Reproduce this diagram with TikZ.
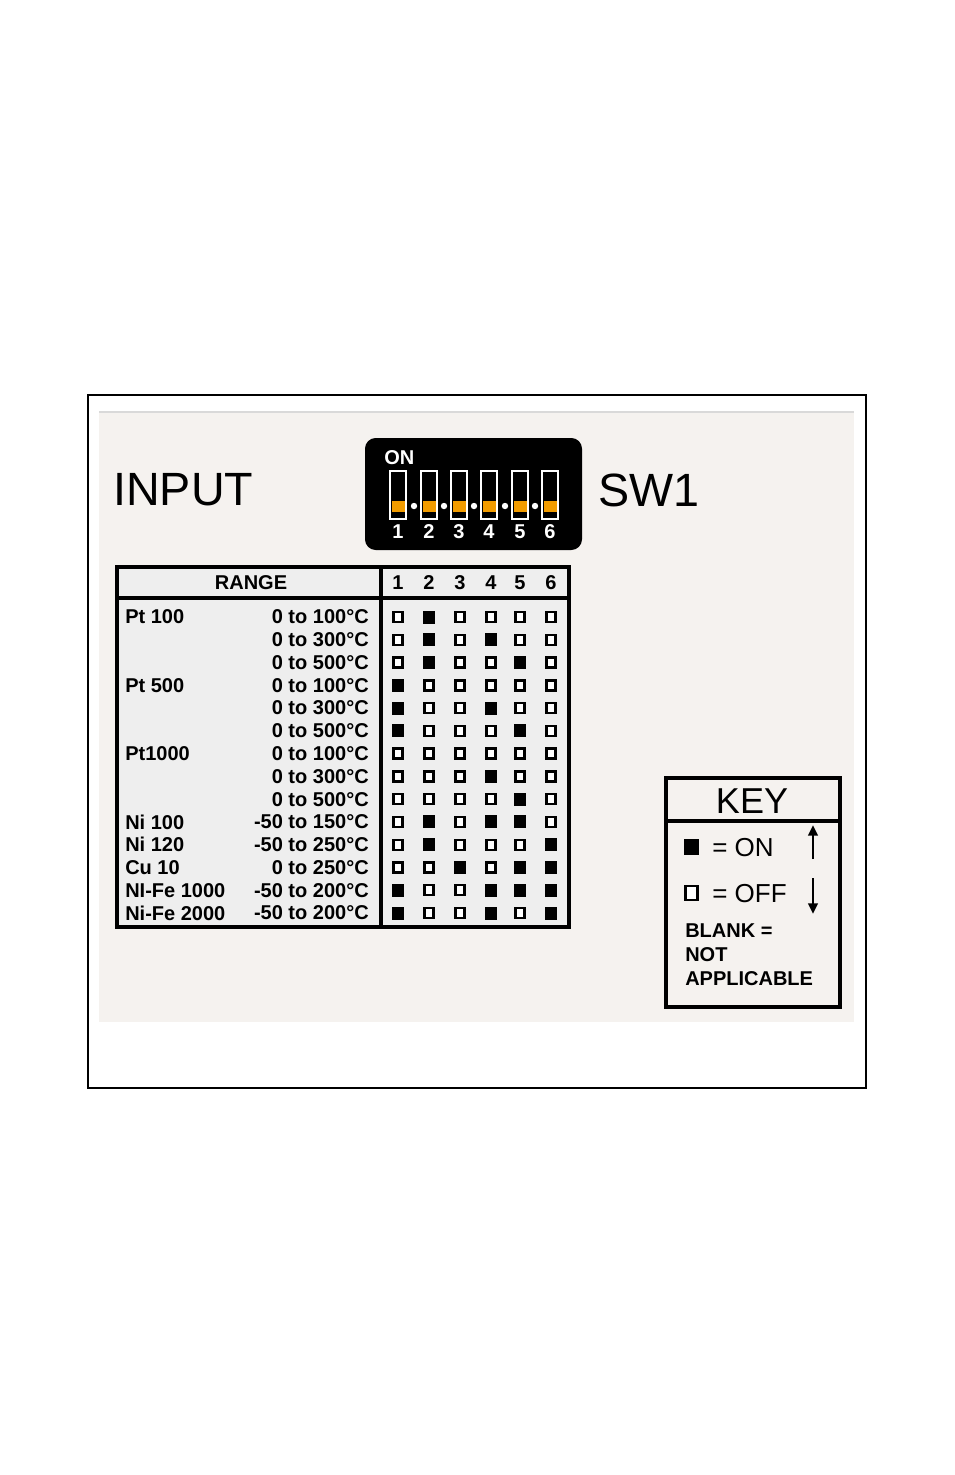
\documentclass[tikz,border=0pt]{standalone}
\usepackage{fontspec}
\setmainfont{Liberation Sans}
\usetikzlibrary{arrows.meta}
\definecolor{panel}{HTML}{F5F2EF}
\definecolor{tbl}{HTML}{EEEEEE}
\definecolor{orng}{HTML}{F29C00}
\begin{document}
\begin{tikzpicture}[x=0.75pt,y=-0.75pt,
  lbl/.style={font=\bfseries\fontsize{15}{15}\selectfont, inner sep=0pt}]
\useasboundingbox (0,0) rectangle (954,1475);
\fill[white] (0,0) rectangle (954,1475);
\draw[line width=1.5pt] (88,395) rectangle (866,1088);
\fill[panel] (99,411) rectangle (854,1022);
\draw[line width=1.2pt, black!15] (99,412) -- (854,412);
\node[font=\fontsize{35}{35}\selectfont, anchor=west, inner sep=0pt] (input) at (113,490) {INPUT};
\node[font=\fontsize{35}{35}\selectfont, anchor=west, inner sep=0pt] (sw1) at (598,490) {SW1};
% DIP
\fill[black, rounded corners=8pt] (365,438) rectangle (582,550);
\node[lbl, text=white, anchor=west] (on) at (384,458) {ON};
\foreach \x [count=\i] in {398,429,459,489,520,550}{
  \draw[white, line width=0.9pt] (\x-8,471) rectangle (\x+8,519);
  \fill[orng] (\x-6.5,501) rectangle (\x+6.5,512);
  \node[lbl, text=white] (n\i) at (\x,532) {\i};
}
\foreach \x in {414,444,474,505,535}{ \fill[white] (\x,506) circle (3.2); }
% table
\fill[tbl] (117,567) rectangle (569,927);
\draw[line width=2.4pt] (117,567) rectangle (569,927);
\draw[line width=2.4pt] (117,598) -- (569,598);
\draw[line width=2.4pt] (381,567) -- (381,927);
\node[lbl] (range) at (251,583) {RANGE};
\foreach \x [count=\i] in {398,429,460,491,520,551}{
  \node[lbl] (h\i) at (\x,583) {\i};
}
\foreach \nm/\rg/\pat [count=\r] in {
  Pt 100/0 to 100°C/{0,1,0,0,0,0},
  /0 to 300°C/{0,1,0,1,0,0},
  /0 to 500°C/{0,1,0,0,1,0},
  Pt 500/0 to 100°C/{1,0,0,0,0,0},
  /0 to 300°C/{1,0,0,1,0,0},
  /0 to 500°C/{1,0,0,0,1,0},
  Pt1000/0 to 100°C/{0,0,0,0,0,0},
  /0 to 300°C/{0,0,0,1,0,0},
  /0 to 500°C/{0,0,0,0,1,0},
  Ni 100/-50 to 150°C/{0,1,0,1,1,0},
  Ni 120/-50 to 250°C/{0,1,0,0,0,1},
  Cu 10/0 to 250°C/{0,0,1,0,1,1},
  NI-Fe 1000/-50 to 200°C/{1,0,0,1,1,1},
  Ni-Fe 2000/-50 to 200°C/{1,0,0,1,0,1}}{
  \pgfmathsetmacro{\yy}{617+(\r-1)*22.77}
  \node[lbl, anchor=west] (name\r) at (125,\yy) {\nm};
  \node[lbl, anchor=east] (rg\r) at (369,\yy) {\rg};
  \foreach \b [count=\c] in \pat {
    \pgfmathsetmacro{\xx}{{398,429,460,491,520,551}[\c-1]}
    \ifnum\b=1
      \fill (\xx-6,\yy-6.5) rectangle (\xx+6,\yy+6.5);
    \else
      \draw[line width=1.8pt, fill=white] (\xx-4.5,\yy-5) rectangle (\xx+4.5,\yy+5);
    \fi
  }
}
% key
\draw[line width=2.4pt] (666,778) rectangle (840,1007);
\draw[line width=2.4pt] (666,821) -- (840,821);
\node[font=\fontsize{27}{27}\selectfont, inner sep=0pt] (key) at (752,801) {KEY};
\fill (684,839) rectangle (699,855);
\node[font=\fontsize{19.5}{20}\selectfont, anchor=west, inner sep=0pt] (keyon) at (712,848) {= ON};
\draw[line width=1.6pt, fill=white] (685.5,886) rectangle (697.5,900);
\node[font=\fontsize{19.5}{20}\selectfont, anchor=west, inner sep=0pt] (keyoff) at (712,894) {= OFF};
\coordinate (u1) at (813,859); \coordinate (u2) at (813,825);
\coordinate (d1) at (813,878); \coordinate (d2) at (813,914);
\draw[line width=2pt, -{Triangle[length=8pt,width=7pt]}] (u1) -- (u2);
\draw[line width=2pt, -{Triangle[length=8pt,width=7pt]}] (d1) -- (d2);
\node[lbl, anchor=west] (b1) at (685,931) {BLANK =};
\node[lbl, anchor=west] (b2) at (685,955) {NOT};
\node[lbl, anchor=west] (b3) at (685,979) {APPLICABLE};
\end{tikzpicture}
\end{document}
